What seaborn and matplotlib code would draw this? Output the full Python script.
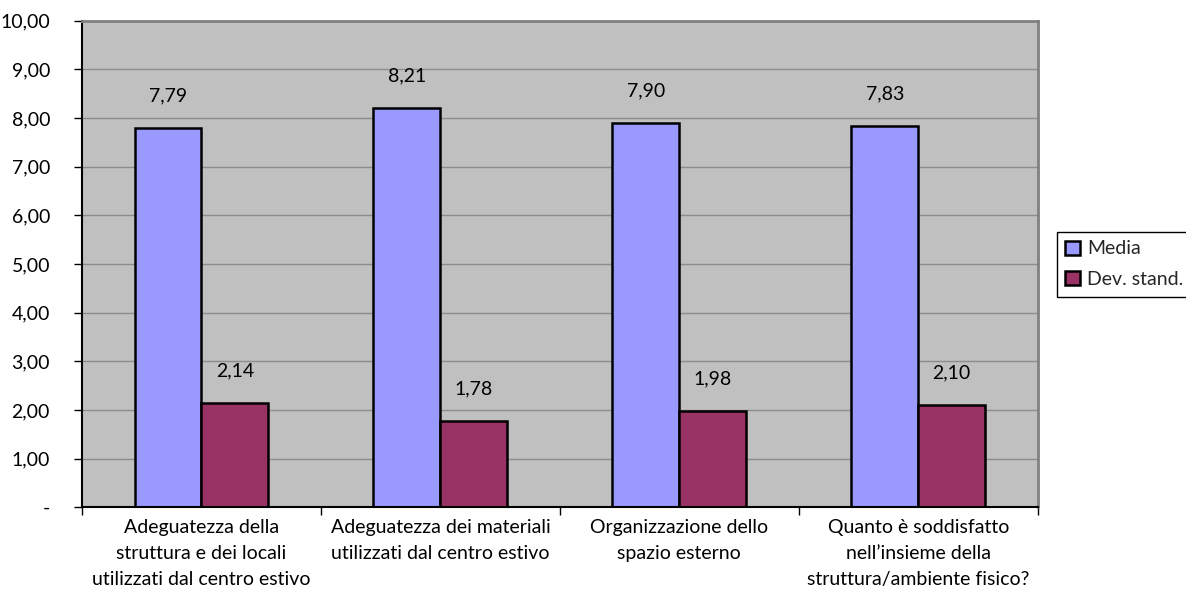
import matplotlib
matplotlib.use("Agg")
import matplotlib.pyplot as plt
import seaborn as sns
import pandas as pd
from matplotlib.ticker import FixedLocator, FuncFormatter
from matplotlib.transforms import blended_transform_factory, offset_copy

categories = [
    "Adeguatezza della\nstruttura e dei locali\nutilizzati dal centro estivo",
    "Adeguatezza dei materiali\nutilizzati dal centro estivo",
    "Organizzazione dello\nspazio esterno",
    "Quanto è soddisfatto\nnell\u2019insieme della\nstruttura/ambiente fisico?",
]
media = [7.79, 8.21, 7.90, 7.83]
dev_stand = [2.14, 1.78, 1.98, 2.10]
series_names = ["Media", "Dev. stand."]
y_ticks = [0, 1, 2, 3, 4, 5, 6, 7, 8, 9, 10]

df = pd.DataFrame({
    "categoria": categories * 2,
    "serie": [series_names[0]] * len(categories) + [series_names[1]] * len(categories),
    "valore": media + dev_stand,
})

sns.set_theme(style="white")
plt.rcParams["font.family"] = ["Lato", "DejaVu Sans"]
FS = 14

fig = plt.figure(figsize=(11.86, 6.06), dpi=100)
ax = fig.add_axes([0.0691, 0.163, 0.875 - 0.0691, 0.966 - 0.163])
ax.set_facecolor("#C0C0C0")

sns.barplot(
    data=df, x="categoria", y="valore", hue="serie",
    order=categories, hue_order=series_names,
    palette=["#9999FF", "#993366"], width=0.56, gap=0,
    edgecolor="black", linewidth=1.8, saturation=1, ax=ax,
)

def it_fmt(v):
    return f"{v:.2f}".replace(".", ",")

for cont in ax.containers:
    for bar in cont:
        h = bar.get_height()
        ax.annotate(it_fmt(h), (bar.get_x() + bar.get_width() / 2, h),
                    xytext=(0, 23), textcoords="offset points",
                    ha="center", va="center", fontsize=FS, color="black")

ax.set_ylim(0, 10)
ax.set_xlim(-0.5, len(categories) - 0.5)
ax.yaxis.set_major_locator(FixedLocator(y_ticks))
ax.yaxis.set_major_formatter(FuncFormatter(lambda v, p: "-" if v == 0 else it_fmt(v)))
ax.grid(axis="y", color="#8C8C8C", linewidth=1)
ax.set_axisbelow(True)

# tick marks at the category boundaries; category names centred below each group
ax.set_xticks([i - 0.5 for i in range(len(categories) + 1)])
ax.set_xticklabels([])
ax.tick_params(axis="x", which="major", length=6, width=1, color="black", direction="out", bottom=True)
ax.tick_params(axis="y", length=6, width=1, color="black", direction="out", left=True, pad=17, labelsize=FS)
for lab in ax.get_yticklabels():
    lab.set_color("black")

label_tr = offset_copy(blended_transform_factory(ax.transData, ax.transAxes),
                       fig=fig, x=0, y=-12, units="dots")
for i, name in enumerate(categories):
    ax.text(i, 0, name, transform=label_tr, ha="center", va="top",
            multialignment="center", fontsize=FS, linespacing=1.65, color="black")

ax.set_xlabel("")
ax.set_ylabel("")

for side in ["left", "bottom"]:
    ax.spines[side].set_color("black")
    ax.spines[side].set_linewidth(1.5)
for side in ["top", "right"]:
    ax.spines[side].set_color("#808080")
    ax.spines[side].set_linewidth(2)
    ax.spines[side].set_visible(True)

handles, labels = ax.get_legend_handles_labels()
ax.get_legend().remove()
leg = fig.legend(handles, labels, loc="center left", bbox_to_anchor=(0.891, 0.564),
                 frameon=True, fancybox=False, shadow=False, framealpha=1,
                 fontsize=FS, handlelength=0.75, handleheight=0.75,
                 handletextpad=0.35, borderpad=0.45, labelspacing=0.7,
                 borderaxespad=0)
leg.get_frame().set_edgecolor("black")
leg.get_frame().set_linewidth(1)
for h in leg.legend_handles:
    h.set_edgecolor("black")
    h.set_linewidth(1.8)

fig.savefig("out.png", dpi=100, facecolor="white")
